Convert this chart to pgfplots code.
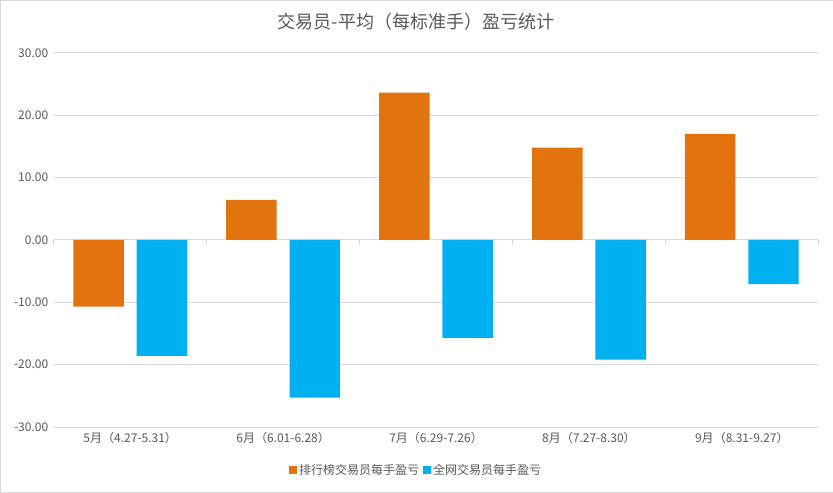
\documentclass[border=0pt]{standalone}
\usepackage{fontspec}
\setmainfont{Noto Sans CJK SC}
\usepackage{pgfplots}
\pgfplotsset{compat=1.18}
\definecolor{orng}{RGB}{226,115,14}
\definecolor{blu}{RGB}{0,176,240}
\definecolor{txt}{RGB}{89,89,89}
\definecolor{grd}{RGB}{217,217,217}
\begin{document}
\begin{tikzpicture}
\draw[fill=white, draw=grd] (0.5bp,0.5bp) rectangle (832.5bp,492.5bp);
\node[text=txt, font=\fontsize{18bp}{21bp}\selectfont] at (416bp,471bp) {交易员-平均（每标准手）盈亏统计};
\begin{axis}[
  at={(54bp,66bp)}, anchor=south west,
  scale only axis, width=764bp, height=374bp,
  ybar, bar width=0.33,
  xmin=-0.5, xmax=4.5, ymin=-30, ymax=30,
  xtick={0,1,2,3,4},
  xticklabels={5月（4.27-5.31）,6月（6.01-6.28）,7月（6.29-7.26）,8月（7.27-8.30）,9月（8.31-9.27）},
  ytick={-30,-20,-10,0,10,20,30},
  ymajorgrids, grid style={grd, line width=0.75bp},
  axis line style={draw=none},
  major tick length=0pt,
  tick label style={text=txt, font=\fontsize{12bp}{14bp}\selectfont},
  xticklabel style={yshift=-2bp},
  yticklabel style={xshift=-2bp},
  /pgf/number format/assume math mode=true,
  yticklabel={\pgfmathprintnumber[fixed, fixed zerofill, precision=2]{\tick}},
  legend style={at={(0.474,-0.115)}, anchor=center, draw=none, fill=none,
    legend columns=2, text=txt, font=\fontsize{12bp}{14bp}\selectfont,
    /tikz/every even column/.append style={column sep=2bp}},
  legend image code/.code={\fill[#1] (0bp,-4bp) rectangle (8bp,4bp);},
  clip=false,
]
\addplot[fill=orng, draw=none, bar shift=-0.207] coordinates {(0,-10.7) (1,6.4) (2,23.6) (3,14.8) (4,17.0)};
\addplot[fill=blu, draw=none, bar shift=0.207] coordinates {(0,-18.6) (1,-25.3) (2,-15.7) (3,-19.2) (4,-7.1)};
\legend{排行榜交易员每手盈亏,全网交易员每手盈亏}
\pgfplotsinvokeforeach{-0.5,0.5,1.5,2.5,3.5,4.5}{\draw[grd, line width=0.75bp] (axis cs:#1,0) -- ([yshift=-5bp]axis cs:#1,0);}
\end{axis}
\end{tikzpicture}
\end{document}
